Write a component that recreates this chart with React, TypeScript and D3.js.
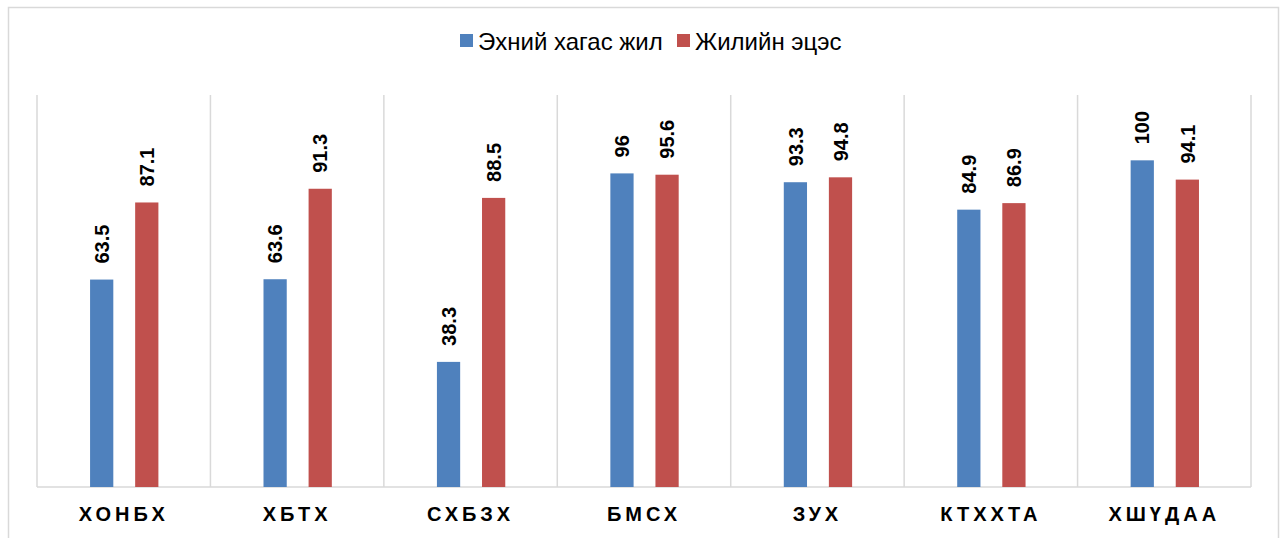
import React, { useEffect, useRef } from 'react';
import * as d3 from 'd3';

const categories = ['ХОНБХ', 'ХБТХ', 'СХБЗХ', 'БМСХ', 'ЗУХ', 'КТХХТА', 'ХШҮДАА'];
const seriesNames = ['Эхний хагас жил', 'Жилийн эцэс'];
const firstHalf = [63.5, 63.6, 38.3, 96, 93.3, 84.9, 100];
const yearEnd = [87.1, 91.3, 88.5, 95.6, 94.8, 86.9, 94.1];
const colors = ['#4f81bd', '#c0504d'];

const W = 1286;
const H = 538;

export default function App() {
  const ref = useRef<SVGSVGElement>(null);

  useEffect(() => {
    const svg = d3.select(ref.current);
    svg.selectAll('*').remove();

    const left = 37;
    const right = 1251;
    const top = 95;
    const bottom = 487;

    // chart frame
    svg
      .append('rect')
      .attr('x', 8.5)
      .attr('y', 7.5)
      .attr('width', 1270)
      .attr('height', 560)
      .attr('fill', '#fff')
      .attr('stroke', '#d9d9d9')
      .attr('stroke-width', 1.5);

    const x = d3.scaleBand<string>().domain(categories).range([left, right]);
    const y = d3.scaleLinear().domain([0, 120]).range([bottom, top]);

    const g = svg.append('g');

    // vertical gridlines at category boundaries
    const bounds = categories.map((c) => x(c) as number).concat([right]);
    g.selectAll('line.grid')
      .data(bounds)
      .enter()
      .append('line')
      .attr('x1', (d) => d)
      .attr('x2', (d) => d)
      .attr('y1', top)
      .attr('y2', bottom)
      .attr('stroke', '#d9d9d9')
      .attr('stroke-width', 1.5);

    g.append('line')
      .attr('x1', left)
      .attr('x2', right)
      .attr('y1', bottom)
      .attr('y2', bottom)
      .attr('stroke', '#d9d9d9')
      .attr('stroke-width', 1.5);

    const bw = x.bandwidth();
    const offsets = [0.306, 0.566];
    const barW = bw * 0.134;
    const series = [firstHalf, yearEnd];

    series.forEach((vals, si) => {
      const data = vals.map((v, i) => ({ cat: categories[i], v }));
      g.selectAll(`rect.s${si}`)
        .data(data)
        .enter()
        .append('rect')
        .attr('x', (d) => (x(d.cat) as number) + bw * offsets[si])
        .attr('y', (d) => y(d.v))
        .attr('width', barW)
        .attr('height', (d) => bottom - y(d.v))
        .attr('fill', colors[si]);

      g.selectAll(`text.l${si}`)
        .data(data)
        .enter()
        .append('text')
        .attr('transform', (d) => {
          const cx = (x(d.cat) as number) + bw * offsets[si] + barW / 2;
          return `translate(${cx},${y(d.v) - 16}) rotate(-90)`;
        })
        .attr('dy', '0.36em')
        .attr('text-anchor', 'start')
        .attr('font-family', 'Liberation Sans, Arial, sans-serif')
        .attr('font-size', 20)
        .attr('font-weight', 'bold')
        .attr('fill', '#000')
        .text((d) => String(d.v));
    });

    // category labels
    g.selectAll('text.cat')
      .data(categories)
      .enter()
      .append('text')
      .attr('x', (d) => (x(d) as number) + bw / 2)
      .attr('y', 521)
      .attr('text-anchor', 'middle')
      .attr('font-family', 'Liberation Sans, Arial, sans-serif')
      .attr('font-size', 20)
      .attr('font-weight', 'bold')
      .attr('letter-spacing', 4)
      .attr('fill', '#000')
      .text((d) => d);

    // legend
    const legendX = [460, 677];
    seriesNames.forEach((name, i) => {
      svg
        .append('rect')
        .attr('x', legendX[i])
        .attr('y', 34)
        .attr('width', 13)
        .attr('height', 13)
        .attr('fill', colors[i]);
      svg
        .append('text')
        .attr('x', legendX[i] + 18)
        .attr('y', 50)
        .attr('font-family', 'Liberation Sans, Arial, sans-serif')
        .attr('font-size', 24)
        .attr('fill', '#000')
        .text(name);
    });
  }, []);

  return (
    <svg
      ref={ref}
      width={W}
      height={H}
      style={{ position: 'absolute', left: 0, top: 0, background: '#fff' }}
    />
  );
}
